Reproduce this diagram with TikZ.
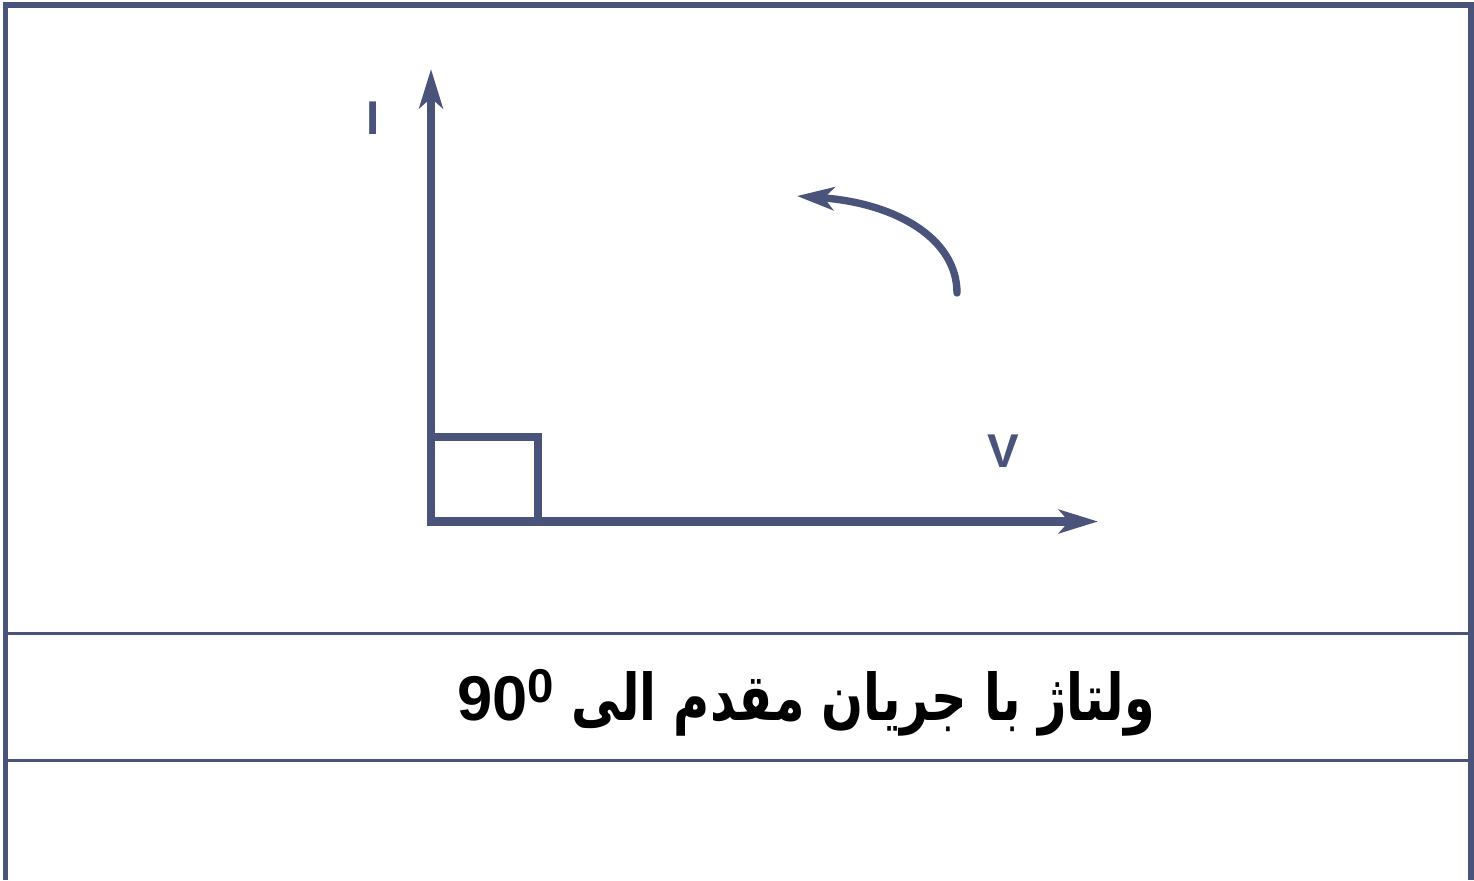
\documentclass[tikz,border=0pt]{standalone}
\usepackage{fontspec}
\usepackage{graphicx}
\setmainfont{Liberation Sans}
\newfontfamily\arabicfont[Script=Arabic]{DejaVu Sans}
\TeXXeTstate=1
\usetikzlibrary{arrows.meta}
\definecolor{slate}{RGB}{74, 84, 122}

\begin{document}
\begin{tikzpicture}[
    x=0.02cm, y=-0.02cm,
    frame/.style={draw=slate, line width=2.9pt},
    rule/.style={draw=slate, line width=1.7pt},
    axis/.style={draw=slate, line width=4.6pt, line join=miter,
                 {Stealth[length=0.78cm, width=0.47cm, inset=0.2cm]}-{Stealth[length=0.78cm, width=0.47cm, inset=0.2cm]}},
    turn/.style={draw=slate, line width=4.2pt, line cap=round,
                 -{Stealth[length=0.74cm, width=0.46cm, inset=0.2cm]}},
    lbl/.style={text=slate, font=\fontsize{27}{30}\selectfont\bfseries,
                inner sep=0pt}
]
\useasboundingbox (0, 0) rectangle (1474, 880);

% outer frame and rows
\draw[frame] (5.5, 880) -- (5.5, 5) -- (1471, 5) -- (1471, 880);
\draw[rule] (5.5, 633) -- (1471, 633);
\draw[rule] (5.5, 760) -- (1471, 760);

% axes
\coordinate (O) at (431, 521.5);
\coordinate (Itip) at (431, 69);
\coordinate (Vtip) at (1098, 521.5);
\coordinate (sq) at (538, 437);
\draw[axis] (Itip) -- (O) -- (Vtip);
\draw[slate, line width=4.4pt] (O |- sq) -- (sq) -- (sq |- O);

\node[lbl] (I) at (373.5, 118) {I};
\node[lbl] (V) at (1003, 451) {V};

% rotation arrow
\coordinate (arcstart) at (957, 293);
\coordinate (arcend) at (797, 196);
\draw[turn] (arcstart) .. controls (957, 238) and (895, 203) .. (arcend);

% caption
\node[font=\fontsize{36}{40}\selectfont\bfseries, inner sep=0pt] (cap) at (806, 703)
    {90\raisebox{0.55ex}{\fontsize{27}{28}\selectfont 0}\
     \scalebox{0.78}[1.02]{\arabicfont\beginR ولتاژ با جریان مقدم الی\endR}};

\end{tikzpicture}
\end{document}
